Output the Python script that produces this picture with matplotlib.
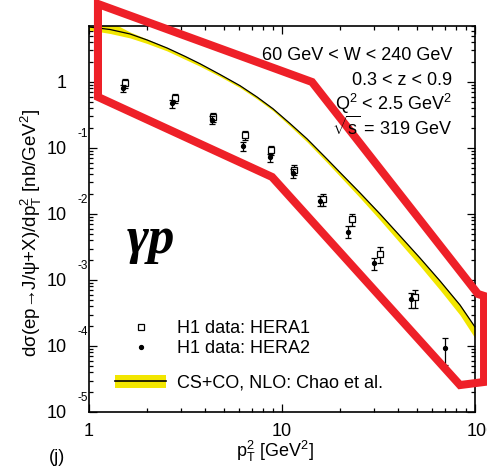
import numpy as np
import matplotlib
matplotlib.use("Agg")
import matplotlib.pyplot as plt
from matplotlib.lines import Line2D
from matplotlib.patches import Patch, Polygon
from matplotlib.legend_handler import HandlerTuple
from matplotlib.transforms import ScaledTranslation

plt.rcParams['font.family'] = ['Liberation Sans', 'DejaVu Sans']
plt.rcParams['mathtext.fontset'] = 'custom'
plt.rcParams['mathtext.rm'] = 'Liberation Sans'
plt.rcParams['mathtext.it'] = 'Liberation Sans:italic'
plt.rcParams['mathtext.bf'] = 'Liberation Sans:bold'

# ---------------- data ----------------
hera1_pt2 = [1.54, 2.79, 4.41, 6.43, 8.77, 11.6, 16.4, 23.0, 32.2, 48.9]
hera1_xs = [0.955, 0.566, 0.292, 0.157, 0.0933, 0.0465, 0.0167, 0.0083, 0.00248, 5.47e-4]
hera1_err = [0.15, 0.09, 0.045, 0.025, 0.015, 0.008, 0.0033, 0.0018, 0.00065, 1.7e-4]

hera2_pt2 = [1.50, 2.68, 4.35, 6.30, 8.67, 11.4, 15.7, 22.1, 30.0, 46.4, 69.9]
hera2_xs = [0.804, 0.475, 0.265, 0.107, 0.0722, 0.0414, 0.0159, 0.0054, 0.00179, 5.1e-4, 9.2e-5]
hera2_err = [0.11, 0.065, 0.035, 0.016, 0.010, 0.006, 0.0027, 0.0011, 0.00036, 1.35e-4, 4.0e-5]

theory_pt2 = [1.0, 1.285, 1.631, 2.0, 2.54, 3.14, 3.76, 4.77, 6.06, 7.42, 8.98,
              11.0, 13.5, 17.1, 20.0, 25.4, 32.2, 40.9, 51.9, 65.9, 83.6, 100.0]
theory_central = [6.81, 6.24, 5.34, 4.33, 3.27, 2.45, 1.89, 1.30, 0.879, 0.593, 0.393,
                  0.235, 0.137, 0.0681, 0.0425, 0.0208, 0.0100, 0.00464, 0.00215,
                  9.66e-4, 4.18e-4, 1.94e-4]
theory_upper = [9.65, 8.25, 5.72, 4.48, 3.33, 2.49, 1.92, 1.32, 0.895, 0.604, 0.400,
                0.239, 0.139, 0.0693, 0.0433, 0.0212, 0.0102, 0.00472, 0.00219,
                9.83e-4, 4.26e-4, 1.97e-4]
theory_lower = [6.14, 5.43, 4.65, 3.83, 2.95, 2.21, 1.73, 1.21, 0.820, 0.553, 0.367,
                0.215, 0.123, 0.0603, 0.0370, 0.0175, 0.00811, 0.00363, 0.00163,
                7.05e-4, 2.95e-4, 1.32e-4]

# red highlight outline (data coordinates: pT^2, dsigma)
outline_pt2 = [1.113, 14.3, 103.6, 111.4, 111.4, 83.6, 8.88, 1.113]
outline_xs = [15.2, 1.0, 6.14e-4, 5.73e-4, 2.85e-5, 2.56e-5, 0.0364, 0.593]

xticks = [1, 10, 100]
xtick_labels = ["1", "10", "100"]
yticks = [1e0, 1e-1, 1e-2, 1e-3, 1e-4, 1e-5]
ytick_labels = ["1", "10", "10", "10", "10", "10"]
ytick_exponents = ["", "-1", "-2", "-3", "-4", "-5"]

info_lines = ["60 GeV < W < 240 GeV", "0.3 < z < 0.9",
              r"Q$^{2}$ < 2.5 GeV$^{2}$", r"$\sqrt{\rm s}$ = 319 GeV"]
legend_labels = ["H1 data: HERA1", "H1 data: HERA2", "CS+CO, NLO: Chao et al."]

# ---------------- figure ----------------
W, H = 487, 468
fig = plt.figure(figsize=(W / 100, H / 100), dpi=100)
ax = fig.add_axes([89 / W, 1 - 412 / H, (475 - 89) / W, (412 - 26) / H])
ax.set_xscale('log')
ax.set_yscale('log')
ax.set_xlim(1, 100)
ax.set_ylim(1e-5, 7.05)

yellow = '#f2e600'
ax.fill_between(theory_pt2, theory_lower, theory_upper, color=yellow, lw=0, zorder=2)
ax.plot(theory_pt2, theory_central, color='black', lw=0.9, zorder=3)

ax.errorbar(hera1_pt2, hera1_xs, yerr=hera1_err, fmt='s', mfc='white', mec='black',
            mew=0.9, ms=4.5, ecolor='black', elinewidth=0.9, capsize=2.0, capthick=0.9, zorder=4)
ax.errorbar(hera2_pt2, hera2_xs, yerr=hera2_err, fmt='o', mfc='black', mec='black',
            ms=2.8, ecolor='black', elinewidth=0.9, capsize=2.0, capthick=0.9, zorder=5)

# axes styling
for s in ax.spines.values():
    s.set_linewidth(1.2)
ax.tick_params(which='both', direction='in', top=True, right=True, width=0.9)
ax.tick_params(which='major', length=5.8)
ax.tick_params(which='minor', length=2.9)
ax.tick_params(axis='x', which='major', pad=8, labelsize=13)
ax.tick_params(axis='y', which='major', pad=16, labelsize=13)
ax.set_xticks(xticks)
ax.set_xticklabels(xtick_labels)
ax.xaxis.set_minor_locator(matplotlib.ticker.LogLocator(subs=np.arange(2, 10)))
ax.xaxis.set_minor_formatter(matplotlib.ticker.NullFormatter())
ax.set_yticks(yticks)
ax.set_yticklabels(ytick_labels)
ax.yaxis.set_minor_locator(matplotlib.ticker.LogLocator(subs=np.arange(2, 10), numticks=20))
ax.yaxis.set_minor_formatter(matplotlib.ticker.NullFormatter())
# last x label shifted right like the original
lab = ax.get_xticklabels()[-1]
lab.set_transform(lab.get_transform() + ScaledTranslation(7 / 100, 0, fig.dpi_scale_trans))

for val, ex in zip(yticks, ytick_exponents):
    if ex:
        ax.text(0, val, ex, transform=ax.get_yaxis_transform() +
                ScaledTranslation(-12 / 100, 14 / 100, fig.dpi_scale_trans),
                ha='left', va='center', fontsize=8.5, clip_on=False)

# labels
fig.text(31 / W, 1 - 233 / H, "dσ(ep→J/ψ+X)/dp$_{\\rm T}^{2}$ [nb/GeV$^{2}$]",
         rotation=90, ha='center', va='center', fontsize=13.5)
fig.text(275 / W, 1 - 457 / H, r"p$_{\rm T}^{2}$ [GeV$^{2}$]", ha='center', va='baseline', fontsize=13)
fig.text(57 / W, 1 - 457 / H, "(j)", ha='center', va='center', fontsize=13)

for i, t in enumerate(info_lines):
    fig.text(452 / W, 1 - (60 + 25 * i) / H, t, ha='right', va='baseline', fontsize=13)

fig.text(127 / W, 1 - 253 / H, "γp", ha='left', va='baseline', fontsize=38,
         family=['Liberation Serif', 'DejaVu Serif'], style='italic', weight='bold')

# legends
h1 = Line2D([], [], ls='none', marker='s', mfc='white', mec='black', mew=0.9, ms=4.5)
h2 = Line2D([], [], ls='none', marker='o', mfc='black', mec='black', ms=2.8)
band = (Patch(facecolor=yellow, edgecolor='none'), Line2D([], [], color='black', lw=1.2))

leg1 = ax.legend([h1, h2], legend_labels[:2], loc='center left', frameon=False,
                 bbox_to_anchor=(115 / W, 1 - 338.5 / H), bbox_transform=fig.transFigure,
                 fontsize=13, handlelength=2.83, handletextpad=0.6, borderpad=0,
                 borderaxespad=0, labelspacing=0.15)
ax.add_artist(leg1)
leg2 = ax.legend([band], legend_labels[2:], loc='center left', frameon=False,
                 bbox_to_anchor=(115 / W, 1 - 383 / H), bbox_transform=fig.transFigure,
                 fontsize=13, handlelength=2.83, handletextpad=0.6, borderpad=0,
                 borderaxespad=0, handler_map={tuple: HandlerTuple(ndivide=1)})

# red highlight outline
poly = Polygon(list(zip(outline_pt2, outline_xs)), closed=True, fill=False,
               edgecolor='#ee2028', lw=5.8, joinstyle='miter', zorder=10, clip_on=False)
ax.add_patch(poly)

fig.savefig('out.png', dpi=100)
